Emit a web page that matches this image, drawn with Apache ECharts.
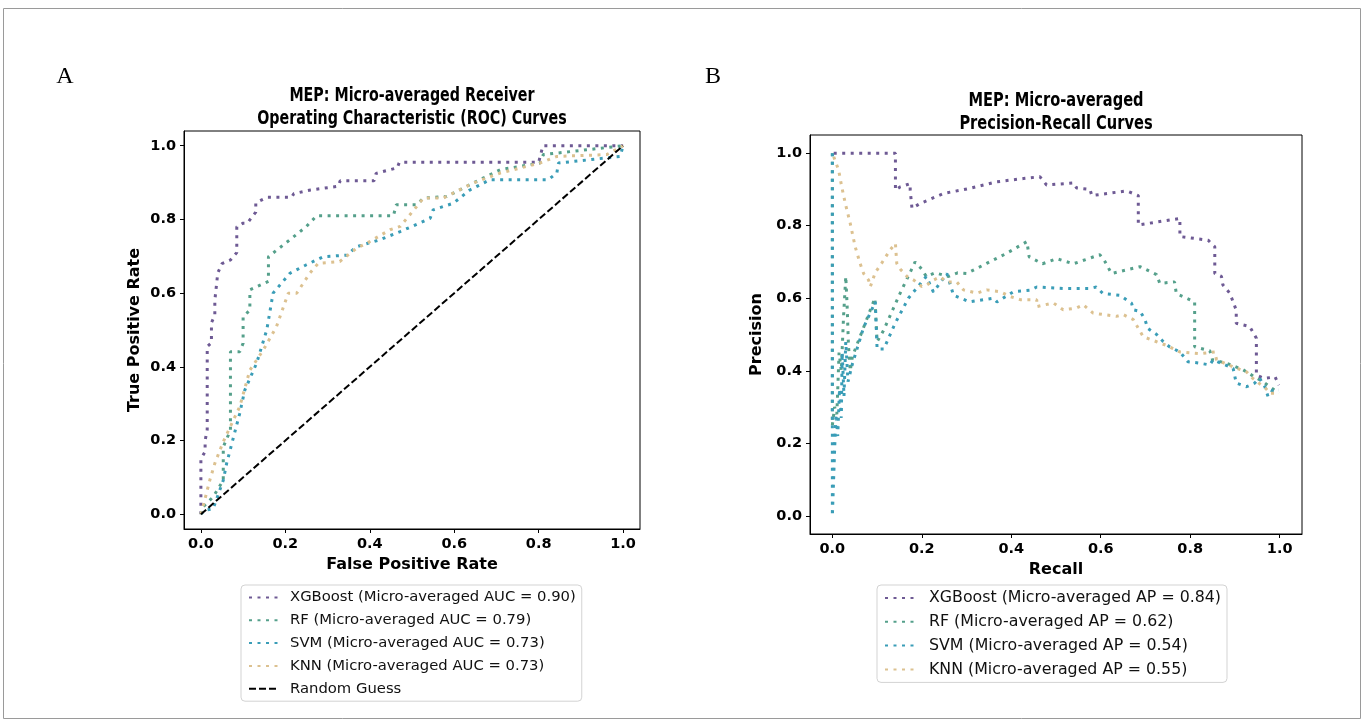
<!DOCTYPE html>
<html>
<head>
<meta charset="utf-8">
<script src="https://cdn.jsdelivr.net/npm/echarts@6.0.0/dist/echarts.min.js"></script>
<style>
  html, body { margin: 0; padding: 0; background: #fff; }
  #main { width: 1365px; height: 727px; }
</style>
</head>
<body>
<div id="main"></div>
<script>
// ---- ROC data (panel A) ----
var rocXgbFpr = [0, 0, 0.01, 0.01, 0.015, 0.015, 0.025, 0.025, 0.033, 0.033, 0.04, 0.05, 0.07, 0.085, 0.085, 0.10, 0.11, 0.13, 0.13, 0.156, 0.215, 0.22, 0.26, 0.325, 0.33, 0.41, 0.415, 0.465, 0.47, 0.80, 0.81, 1.0];
var rocXgbTpr = [0, 0.15, 0.17, 0.20, 0.23, 0.455, 0.465, 0.52, 0.54, 0.58, 0.655, 0.68, 0.69, 0.71, 0.78, 0.79, 0.79, 0.82, 0.845, 0.86, 0.86, 0.87, 0.88, 0.89, 0.905, 0.905, 0.925, 0.94, 0.955, 0.955, 1.0, 1.0];
var rocRfFpr = [0, 0.005, 0.029, 0.053, 0.053, 0.07, 0.07, 0.092, 0.10, 0.10, 0.116, 0.116, 0.16, 0.16, 0.211, 0.25, 0.274, 0.456, 0.463, 0.511, 0.527, 0.582, 0.645, 0.709, 0.803, 0.811, 1.0];
var rocRfTpr = [0, 0.02, 0.047, 0.092, 0.183, 0.228, 0.441, 0.441, 0.464, 0.536, 0.554, 0.609, 0.632, 0.699, 0.745, 0.781, 0.81, 0.81, 0.84, 0.84, 0.858, 0.862, 0.899, 0.935, 0.953, 0.976, 1.0];
var rocSvmFpr = [0, 0.009, 0.029, 0.053, 0.061, 0.092, 0.104, 0.132, 0.156, 0.171, 0.211, 0.25, 0.29, 0.345, 0.369, 0.424, 0.472, 0.543, 0.55, 0.598, 0.637, 0.685, 0.823, 0.843, 0.847, 0.993, 1.0];
var rocSvmTpr = [0, 0.011, 0.015, 0.092, 0.138, 0.274, 0.337, 0.41, 0.5, 0.6, 0.654, 0.677, 0.699, 0.703, 0.726, 0.745, 0.767, 0.803, 0.826, 0.844, 0.88, 0.908, 0.908, 0.926, 0.953, 0.971, 1.0];
var rocKnnFpr = [0, 0.009, 0.021, 0.033, 0.053, 0.092, 0.116, 0.148, 0.179, 0.207, 0.227, 0.258, 0.278, 0.329, 0.369, 0.40, 0.448, 0.472, 0.511, 0.527, 0.574, 0.645, 0.709, 0.803, 0.843, 0.961, 1.0];
var rocKnnTpr = [0, 0.038, 0.092, 0.138, 0.197, 0.292, 0.391, 0.446, 0.509, 0.6, 0.6, 0.654, 0.681, 0.686, 0.722, 0.74, 0.772, 0.781, 0.835, 0.858, 0.858, 0.899, 0.926, 0.953, 0.971, 0.976, 1.0];
var guessX = [0, 1];
var guessY = [0, 1];

// ---- Precision-Recall data (panel B) ----
var prXgbRec = [0.003, 0.141, 0.141, 0.152, 0.174, 0.174, 0.178, 0.196, 0.249, 0.308, 0.368, 0.427, 0.464, 0.479, 0.539, 0.546, 0.576, 0.58, 0.658, 0.684, 0.684, 0.777, 0.777, 0.84, 0.855, 0.855, 0.87, 0.873, 0.889, 0.903, 0.903, 0.933, 0.948, 0.948, 0.965, 0.99, 0.998];
var prXgbPre = [1.0, 1.0, 0.898, 0.907, 0.916, 0.898, 0.848, 0.861, 0.889, 0.903, 0.921, 0.93, 0.935, 0.912, 0.918, 0.904, 0.9, 0.883, 0.896, 0.883, 0.802, 0.82, 0.77, 0.76, 0.742, 0.668, 0.66, 0.637, 0.613, 0.567, 0.531, 0.522, 0.49, 0.388, 0.379, 0.383, 0.36];
var prRfRec = [0, 0, 0.005, 0.01, 0.015, 0.02, 0.025, 0.03, 0.033, 0.036, 0.04, 0.045, 0.07, 0.095, 0.1, 0.114, 0.15, 0.185, 0.2, 0.21, 0.23, 0.26, 0.28, 0.3, 0.345, 0.39, 0.435, 0.44, 0.47, 0.502, 0.539, 0.598, 0.61, 0.624, 0.688, 0.725, 0.732, 0.765, 0.769, 0.81, 0.81, 0.844, 0.85, 0.881, 0.918, 0.948, 0.963, 0.978, 0.998];
var prRfPre = [1.0, 0.25, 0.3, 0.28, 0.45, 0.4, 0.55, 0.66, 0.58, 0.47, 0.4, 0.44, 0.52, 0.6, 0.48, 0.51, 0.61, 0.70, 0.68, 0.66, 0.67, 0.66, 0.67, 0.668, 0.696, 0.724, 0.756, 0.714, 0.695, 0.709, 0.695, 0.72, 0.7, 0.668, 0.687, 0.665, 0.641, 0.645, 0.613, 0.59, 0.466, 0.455, 0.43, 0.421, 0.403, 0.38, 0.37, 0.356, 0.338];
var prSvmRec = [0, 0, 0.005, 0.008, 0.012, 0.016, 0.02, 0.022, 0.026, 0.03, 0.035, 0.045, 0.07, 0.096, 0.1, 0.115, 0.14, 0.17, 0.21, 0.226, 0.256, 0.271, 0.307, 0.36, 0.368, 0.405, 0.442, 0.457, 0.516, 0.576, 0.59, 0.605, 0.643, 0.669, 0.673, 0.688, 0.699, 0.705, 0.725, 0.74, 0.754, 0.777, 0.795, 0.821, 0.844, 0.851, 0.896, 0.903, 0.926, 0.944, 0.955, 0.967, 0.974, 0.985, 0.998];
var prSvmPre = [1.0, 0.0, 0.18, 0.28, 0.22, 0.35, 0.27, 0.45, 0.33, 0.48, 0.37, 0.42, 0.52, 0.59, 0.46, 0.46, 0.53, 0.6, 0.66, 0.617, 0.668, 0.608, 0.59, 0.6, 0.59, 0.618, 0.622, 0.631, 0.627, 0.627, 0.631, 0.613, 0.608, 0.586, 0.568, 0.564, 0.541, 0.517, 0.5, 0.48, 0.466, 0.452, 0.425, 0.421, 0.416, 0.43, 0.407, 0.366, 0.356, 0.366, 0.38, 0.356, 0.329, 0.347, 0.347];
var prKnnRec = [0.003, 0.014, 0.021, 0.029, 0.04, 0.051, 0.062, 0.07, 0.081, 0.085, 0.096, 0.11, 0.129, 0.141, 0.144, 0.152, 0.167, 0.182, 0.2, 0.211, 0.226, 0.241, 0.256, 0.278, 0.293, 0.323, 0.345, 0.375, 0.397, 0.42, 0.457, 0.457, 0.494, 0.516, 0.546, 0.561, 0.583, 0.635, 0.65, 0.673, 0.684, 0.695, 0.725, 0.747, 0.777, 0.821, 0.855, 0.859, 0.896, 0.926, 0.94, 0.97, 0.978, 0.998];
var prKnnPre = [0.99, 0.953, 0.907, 0.861, 0.806, 0.742, 0.696, 0.668, 0.65, 0.632, 0.671, 0.696, 0.733, 0.751, 0.696, 0.68, 0.66, 0.65, 0.632, 0.636, 0.65, 0.659, 0.645, 0.645, 0.623, 0.614, 0.623, 0.618, 0.605, 0.596, 0.596, 0.577, 0.587, 0.568, 0.573, 0.582, 0.559, 0.55, 0.555, 0.541, 0.517, 0.494, 0.48, 0.47, 0.452, 0.447, 0.452, 0.43, 0.411, 0.397, 0.379, 0.35, 0.338, 0.338];

var tickValues = [0, 0.2, 0.4, 0.6, 0.8, 1.0];
var rocNames = ['XGBoost (Micro-averaged AUC = 0.90)', 'RF (Micro-averaged AUC = 0.79)', 'SVM (Micro-averaged AUC = 0.73)', 'KNN (Micro-averaged AUC = 0.73)', 'Random Guess'];
var prNames = ['XGBoost (Micro-averaged AP = 0.84)', 'RF (Micro-averaged AP = 0.62)', 'SVM (Micro-averaged AP = 0.54)', 'KNN (Micro-averaged AP = 0.55)'];
var colors = ['#6e5a94', '#55a08b', '#3a9db7', '#dcc190'];

function zip(xs, ys){
    var out = [];
    for (var i = 0; i < xs.length; i++) out.push([xs[i], ys[i]]);
    return out;
}

function dotted(name, xs, ys, color, idx){
    return {
        name: name, type: 'line', xAxisIndex: idx, yAxisIndex: idx,
        data: zip(xs, ys), symbol: 'none', showSymbol: false, silent: true,
        itemStyle: {color: color},
        lineStyle: {color: color, width: 3, type: [3, 5.5], cap: 'butt'}
    };
}

function valAxis(idx, min, max, name, gap, pos){
    return {
        type: 'value', gridIndex: idx, min: min, max: max, position: pos,
        name: name, nameLocation: 'middle', nameGap: gap,
        nameTextStyle: {fontFamily: 'DejaVu Sans', fontWeight: 'bold', fontSize: 16, color: '#000'},
        axisLine: {show: true, onZero: false, lineStyle: {color: '#000', width: 1}},
        axisTick: {show: true, length: 4, customValues: tickValues, lineStyle: {color: '#000', width: 1}},
        axisLabel: {customValues: tickValues, margin: 8, fontFamily: 'DejaVu Sans', fontWeight: 'bold', fontSize: 14.5, color: '#000',
            formatter: function(v){ return v.toFixed(1); }},
        splitLine: {show: false}
    };
}

function legendBox(names, left, fontSize, gapLeft){
    return {
        data: names, orient: 'vertical', left: left, top: 585,
        itemWidth: 29, itemHeight: 14, itemGap: 7.8,
        padding: [5, 6, 5, 7], borderColor: '#d3d3d3', borderWidth: 1, borderRadius: 4,
        itemStyle: {opacity: 0},
        textStyle: {fontFamily: 'DejaVu Sans', fontSize: fontSize, color: '#111', padding: [0, 0, 0, gapLeft]},
        selectedMode: false
    };
}

var titleFont = 'bold 19px "DejaVu Sans"';

var myChart = echarts.init(document.getElementById('main'), null, {renderer: 'canvas'});
var option = {
    animation: false,
    backgroundColor: '#fff',
    grid: [
        {left: 184, top: 131, width: 456, height: 398, show: true, borderColor: '#000', borderWidth: 1, backgroundColor: 'transparent'},
        {left: 810, top: 135, width: 492, height: 399, show: true, borderColor: '#000', borderWidth: 1, backgroundColor: 'transparent'}
    ],
    xAxis: [
        valAxis(0, -0.04, 1.04, 'False Positive Rate', 25, 'bottom'),
        valAxis(1, -0.05, 1.05, 'Recall', 28, 'bottom')
    ],
    yAxis: [
        valAxis(0, -0.04, 1.04, 'True Positive Rate', 41, 'left'),
        valAxis(1, -0.05, 1.05, 'Precision', 45, 'left')
    ],
    legend: [
        legendBox(rocNames, 241, 14.8, 7),
        legendBox(prNames, 877, 15.8, 10)
    ],
    graphic: [
        {type: 'rect', shape: {x: 3.5, y: 8.5, width: 1357, height: 710}, style: {fill: 'none', stroke: '#9a9a9a', lineWidth: 1}, silent: true},
        {type: 'text', x: 65, y: 77, style: {text: 'A', font: '24px "Liberation Serif"', fill: '#000', textAlign: 'center', textVerticalAlign: 'middle'}},
        {type: 'text', x: 713, y: 77, style: {text: 'B', font: '24px "Liberation Serif"', fill: '#000', textAlign: 'center', textVerticalAlign: 'middle'}},
        {type: 'text', x: 412, y: 96, scaleX: 0.75, style: {text: 'MEP: Micro-averaged Receiver', font: titleFont, fill: '#000', textAlign: 'center', textVerticalAlign: 'middle'}},
        {type: 'text', x: 412, y: 119, scaleX: 0.75, style: {text: 'Operating Characteristic (ROC) Curves', font: titleFont, fill: '#000', textAlign: 'center', textVerticalAlign: 'middle'}},
        {type: 'text', x: 1056, y: 101, scaleX: 0.77, style: {text: 'MEP: Micro-averaged', font: titleFont, fill: '#000', textAlign: 'center', textVerticalAlign: 'middle'}},
        {type: 'text', x: 1056, y: 124, scaleX: 0.77, style: {text: 'Precision-Recall Curves', font: titleFont, fill: '#000', textAlign: 'center', textVerticalAlign: 'middle'}}
    ],
    series: [
        dotted(rocNames[0], rocXgbFpr, rocXgbTpr, colors[0], 0),
        dotted(rocNames[1], rocRfFpr, rocRfTpr, colors[1], 0),
        dotted(rocNames[2], rocSvmFpr, rocSvmTpr, colors[2], 0),
        dotted(rocNames[3], rocKnnFpr, rocKnnTpr, colors[3], 0),
        {
            name: rocNames[4], type: 'line', xAxisIndex: 0, yAxisIndex: 0,
            data: zip(guessX, guessY), symbol: 'none', silent: true,
            itemStyle: {color: '#000'},
            lineStyle: {color: '#000', width: 2, type: [7, 3]}
        },
        dotted(prNames[0], prXgbRec, prXgbPre, colors[0], 1),
        dotted(prNames[1], prRfRec, prRfPre, colors[1], 1),
        dotted(prNames[2], prSvmRec, prSvmPre, colors[2], 1),
        dotted(prNames[3], prKnnRec, prKnnPre, colors[3], 1)
    ]
};
myChart.setOption(option);
</script>
</body>
</html>
